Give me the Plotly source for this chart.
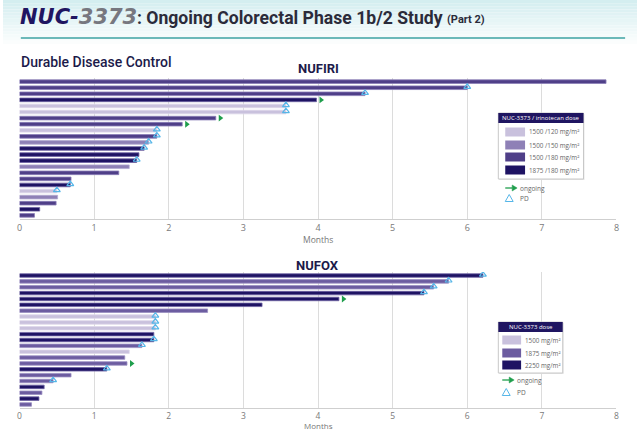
import plotly.graph_objects as go

# ---------------- data ----------------
nufiri_months = [7.86, 6.0, 4.63, 3.98, 3.57, 3.57, 2.63, 2.18, 1.84, 1.84, 1.73, 1.67,
                 1.6, 1.57, 1.47, 1.33, 0.69, 0.68, 0.5, 0.51, 0.49, 0.27, 0.2]
nufiri_dose = ["1500/180", "1500/180", "1500/180", "1875/180", "1500/120", "1500/120",
               "1500/180", "1500/180", "1500/120", "1500/180", "1500/150", "1875/180",
               "1875/180", "1875/180", "1500/150", "1500/180", "1500/180", "1875/180",
               "1500/120", "1500/150", "1500/180", "1875/180", "1500/180"]
nufiri_status = ["", "PD", "PD", "ongoing", "PD", "PD", "ongoing", "ongoing", "PD", "PD",
                 "PD", "PD", "", "PD", "", "", "", "PD", "PD", "", "", "", ""]

nufox_months = [6.21, 5.75, 5.55, 5.42, 4.28, 3.25, 2.52, 1.82, 1.82, 1.82, 1.8, 1.8,
                1.64, 1.47, 1.41, 1.44, 1.17, 0.69, 0.45, 0.33, 0.3, 0.26, 0.16]
nufox_dose = ["2250", "1875", "1875", "2250", "2250", "2250", "1875", "1500", "1500", "1500",
              "2250", "2250", "1875", "1500", "1875", "1875", "2250", "1875", "1875", "2250",
              "1875", "2250", "1875"]
nufox_status = ["PD", "PD", "PD", "PD", "ongoing", "", "", "PD", "PD", "PD", "", "PD", "PD",
                "", "", "ongoing", "PD", "", "PD", "", "", "", ""]

nufiri_legend = ["1500 /120 mg/m²", "1500 /150 mg/m²", "1500 /180 mg/m²", "1875 /180 mg/m²"]
nufox_legend = ["1500 mg/m²", "1875 mg/m²", "2250 mg/m²"]
x_ticks = [0, 1, 2, 3, 4, 5, 6, 7, 8]

# ---------------- styles ----------------
nufiri_colors = {"1500/120": ("#c9c1dd", "#ddd7ea"), "1500/150": ("#8e80b6", "#b3a9d0"),
                 "1500/180": ("#4f3f88", "#8c7fb8"), "1875/180": ("#1e1363", "#6f63a3")}
nufox_colors = {"1500": ("#c9c1dd", "#ddd7ea"), "1875": ("#6c5ca0", "#9a8fc2"),
                "2250": ("#1e1363", "#6f63a3")}
GREEN = "#1f9e4c"
BLUE = "#56b6e8"
NAVY = "#1f1561"

W, H = 640, 433
def px(x): return x / W
def py(y): return 1 - y / H

fig = go.Figure()

def add_panel(months, doses, status, colors, xa, ya):
    n = len(months)
    idx = list(range(n))
    for d, (c, lc) in colors.items():
        ys = [i for i in idx if doses[i] == d]
        xs = [months[i] for i in ys]
        fig.add_trace(go.Bar(x=xs, y=ys, orientation="h", xaxis=xa, yaxis=ya,
                             marker=dict(color=c, line=dict(color=lc, width=0.8)),
                             width=0.6, showlegend=False, hoverinfo="x"))
    pd_i = [i for i in idx if status[i] == "PD"]
    fig.add_trace(go.Scatter(x=[months[i] for i in pd_i], y=[i - 0.15 for i in pd_i],
                             mode="markers", xaxis=xa, yaxis=ya, showlegend=False,
                             marker=dict(symbol="triangle-up-open", size=6, color=BLUE,
                                         line=dict(width=1.2, color=BLUE))))
    og_i = [i for i in idx if status[i] == "ongoing"]
    fig.add_trace(go.Scatter(x=[months[i] + 0.06 for i in og_i], y=og_i,
                             mode="markers", xaxis=xa, yaxis=ya, showlegend=False,
                             marker=dict(symbol="triangle-right", size=6, color=GREEN)))

add_panel(nufiri_months, nufiri_dose, nufiri_status, nufiri_colors, "x", "y")
add_panel(nufox_months, nufox_dose, nufox_status, nufox_colors, "x2", "y2")

xdom = [px(16.7), px(619.3)]
axis_common = dict(range=[0, 8], tickvals=x_ticks, showgrid=True, gridcolor="#dcdcdc",
                   gridwidth=1, zeroline=False, showline=True, linecolor="#cfcfcf",
                   ticks="", fixedrange=True)
yaxis_common = dict(range=[22.6, -0.6], showticklabels=False, showgrid=False,
                    zeroline=False, showline=False, fixedrange=True)

fig.update_layout(
    width=W, height=H, margin=dict(l=0, r=0, t=0, b=0),
    paper_bgcolor="white", plot_bgcolor="white", barmode="overlay",
    xaxis=dict(domain=xdom, anchor="y",
               tickfont=dict(family="Open Sans", size=9, color="#7a7a7a"), **axis_common),
    yaxis=dict(domain=[py(219), py(78)], anchor="x", **yaxis_common),
    xaxis2=dict(domain=xdom, anchor="y2",
                tickfont=dict(family="Open Sans", size=8.5, color="#7a7a7a"), **axis_common),
    yaxis2=dict(domain=[py(408), py(272)], anchor="x2", **yaxis_common),
)

shapes = []
# top gradient background
n_steps = 14
for k in range(n_steps):
    t = k / n_steps
    r = int(0xd4 + (0xff - 0xd4) * t)
    g = int(0xee + (0xff - 0xee) * t)
    b = int(0xf0 + (0xff - 0xf0) * t)
    y0 = k * 44 / n_steps
    y1 = (k + 1) * 44 / n_steps
    shapes.append(dict(type="rect", xref="paper", yref="paper", x0=0, x1=1,
                       y0=py(y1), y1=py(y0), fillcolor=f"rgb({r},{g},{b})",
                       line=dict(width=0), layer="below"))
# teal rule under title
shapes.append(dict(type="line", xref="paper", yref="paper", x0=px(18), x1=px(628),
                   y0=py(38), y1=py(38), line=dict(color="#6cb9b9", width=2)))

annotations = []
def ann(text, x, y, size, color, family="Open Sans", xanchor="left", yanchor="middle",
        weight="normal"):
    annotations.append(dict(text=text, x=px(x), y=py(y), xref="paper", yref="paper",
                            showarrow=False, xanchor=xanchor, yanchor=yanchor,
                            font=dict(family=family, size=size, color=color, weight=weight)))

ann("<b><i>NUC-<span style='color:#77777f'>3373</span></i></b>", 15, 17, 21, NAVY,
    family="DejaVu Sans")
ann("<b>: Ongoing Colorectal Phase 1b/2 Study</b>", 133, 18, 17.6, "#2b2b3a", family="Roboto")
ann("<b>(Part 2)</b>", 446, 19, 11, "#2b2b3a", family="Roboto")
ann("Durable Disease Control", 16, 62, 14, "#1c1a4a", family="Roboto", weight=500)
ann("<b>NUFIRI</b>", 318, 69, 13, "#1c1a4a", family="Roboto", xanchor="center")
ann("<b>NUFOX</b>", 317, 265, 13, "#1c1a4a", family="Roboto", xanchor="center")
ann("Months", 318, 239, 8.5, "#777777", xanchor="center")
ann("Months", 318, 433.5, 8, "#777777", xanchor="center", yanchor="bottom")

def legend_box(x0, x1, y0, y1, header, labels, cols, ent_y, sw_x0, sw_x1, og_y, pd_y):
    shapes.append(dict(type="rect", xref="paper", yref="paper", x0=px(x0 + 1), x1=px(x1 + 1),
                       y0=py(y1 + 1), y1=py(y0 + 1), fillcolor="#e6e6e6", line=dict(width=0)))
    shapes.append(dict(type="rect", xref="paper", yref="paper", x0=px(x0), x1=px(x1),
                       y0=py(y1), y1=py(y0), fillcolor="white", line=dict(color="#c8c8c8", width=1)))
    shapes.append(dict(type="rect", xref="paper", yref="paper", x0=px(x0), x1=px(x1),
                       y0=py(y0 + 10), y1=py(y0), fillcolor=NAVY, line=dict(width=0)))
    annotations.append(dict(text=header, x=px((x0 + x1) / 2), y=py(y0 + 5), xref="paper",
                            yref="paper", showarrow=False, xanchor="center", yanchor="middle",
                            font=dict(family="Open Sans", size=6, color="white")))
    for lab, col, yy in zip(labels, cols, ent_y):
        shapes.append(dict(type="rect", xref="paper", yref="paper", x0=px(sw_x0), x1=px(sw_x1),
                           y0=py(yy + 4.5), y1=py(yy - 4.5), fillcolor=col,
                           line=dict(color="#ffffff", width=0)))
        ann(lab, sw_x1 + 1.5, yy, 6.3, "#666666")
    shapes.append(dict(type="line", xref="paper", yref="paper", x0=px(sw_x0), x1=px(sw_x0 + 7),
                       y0=py(og_y), y1=py(og_y), line=dict(color=GREEN, width=1.3)))
    ax = sw_x0 + 7
    shapes.append(dict(type="path", xref="paper", yref="paper",
                       path=f"M {px(ax)},{py(og_y - 3)} L {px(ax + 5)},{py(og_y)} L {px(ax)},{py(og_y + 3)} Z",
                       fillcolor=GREEN, line=dict(color=GREEN, width=0.5)))
    ann("ongoing", sw_x0 + 13, og_y, 6.5, "#666666")
    tx = sw_x0 + 4
    shapes.append(dict(type="path", xref="paper", yref="paper",
                       path=f"M {px(tx - 4)},{py(pd_y + 3.5)} L {px(tx)},{py(pd_y - 3.5)} L {px(tx + 4)},{py(pd_y + 3.5)} Z",
                       fillcolor="rgba(0,0,0,0)", line=dict(color=BLUE, width=1)))
    ann("PD", sw_x0 + 13, pd_y, 6.5, "#666666")

legend_box(500, 586, 113, 179, "NUC-3373 / irinotecan dose", nufiri_legend,
           [nufiri_colors[k][0] for k in ["1500/120", "1500/150", "1500/180", "1875/180"]],
           [132, 145, 157, 170], 507, 527, 188, 198)
legend_box(500, 565, 322, 373, "NUC-3373 dose", nufox_legend,
           [nufox_colors[k][0] for k in ["1500", "1875", "2250"]],
           [340, 353, 365], 504, 523, 380, 392)

fig.update_layout(shapes=shapes, annotations=annotations)
fig.write_html("out.html", config={"displayModeBar": False},
               post_script="document.body.style.margin='0px';")
